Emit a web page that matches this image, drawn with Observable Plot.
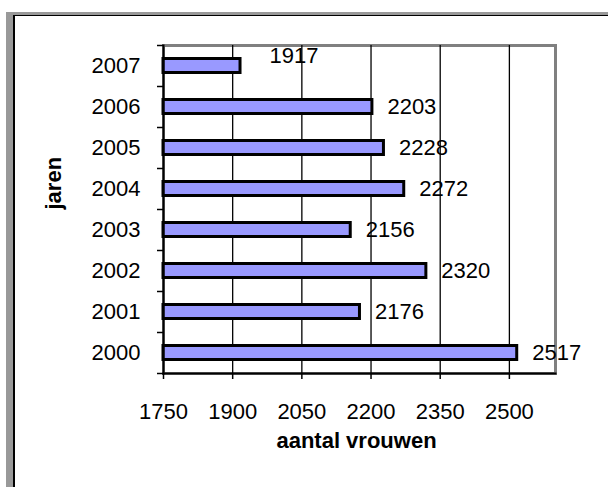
<!DOCTYPE html>
<html><head><meta charset="utf-8">
<script src="https://cdn.jsdelivr.net/npm/d3@7"></script>
<script src="https://cdn.jsdelivr.net/npm/@observablehq/plot@0.6"></script>
<style>
html,body{margin:0;padding:0;background:#fff;width:608px;height:487px;overflow:hidden;}
#wrap{position:relative;width:608px;height:487px;}
#chart{position:absolute;left:0;top:0;}
#frame{position:absolute;left:6px;top:12px;right:0;bottom:0;border-left:7px solid #999;border-top:3px solid #999;pointer-events:none;}
#frame2{position:absolute;left:0;top:0;right:0;bottom:0;border-left:2px solid #000;border-top:1px solid #000;}
</style></head>
<body><div id="wrap"><div id="chart"></div><div id="frame"><div id="frame2"></div></div></div>
<script>
const years = ["2007","2006","2005","2004","2003","2002","2001","2000"];
const counts = [1917,2203,2228,2272,2156,2320,2176,2517];
const xTicks = [1750,1900,2050,2200,2350,2500];
const xDomain = [1750,2600];
const xLabel = "aantal vrouwen";
const yLabel = "jaren";
const data = years.map((year,i)=>({year, value: counts[i]}));

const chart = Plot.plot({
  width: 608, height: 487,
  marginLeft: 163, marginRight: 53, marginTop: 45, marginBottom: 114,
  style: {fontFamily: '"Liberation Sans", Arial, sans-serif', fontSize: "22px", color: "black", background: "transparent", overflow: "visible"},
  x: {domain: xDomain, ticks: xTicks},
  y: {domain: years, padding: 0},
  marks: [
    Plot.frame({stroke: "#808080", strokeWidth: 3}),
    Plot.ruleX(xTicks.slice(1), {stroke: "black", strokeWidth: 1.3}),
    Plot.barX(data, {x1: xDomain[0], x2: "value", y: "year", fill: "#9999FF", stroke: "black", strokeWidth: 3, insetTop: 13.5, insetBottom: 13.5}),
    Plot.frame({anchor: "left", stroke: "black", strokeWidth: 2}),
    Plot.frame({anchor: "bottom", stroke: "black", strokeWidth: 2}),
    Plot.axisX(xTicks, {tickSize: 6, tickPadding: 24, strokeWidth: 1.5, label: null, tickFormat: d => String(d)}),
    Plot.axisY(years, {tickSize: 0, tickPadding: 23, label: null}),
    Plot.axisY(years, {tickSize: 6, tickFormat: () => "", dy: -20.5, label: null, strokeWidth: 1.5}),
    Plot.axisY(years.slice(-1), {tickSize: 6, tickFormat: () => "", dy: 20.5, label: null, strokeWidth: 1.5}),
    Plot.text(data.filter(d => d.year !== "2007"), {x: "value", y: "year", text: d => String(d.value), textAnchor: "start", dx: 15}),
    Plot.text(data.filter(d => d.year === "2007"), {x: "value", y: "year", text: d => String(d.value), textAnchor: "start", dx: 29, dy: -10}),
    Plot.text([xLabel], {frameAnchor: "bottom", dy: 74, dx: -3, text: d => d, fontWeight: "bold"}),
    Plot.text([yLabel], {frameAnchor: "left", dx: -110, rotate: -90, text: d => d, fontWeight: "bold"})
  ]
});
document.getElementById("chart").appendChild(chart);
</script>
</body></html>
